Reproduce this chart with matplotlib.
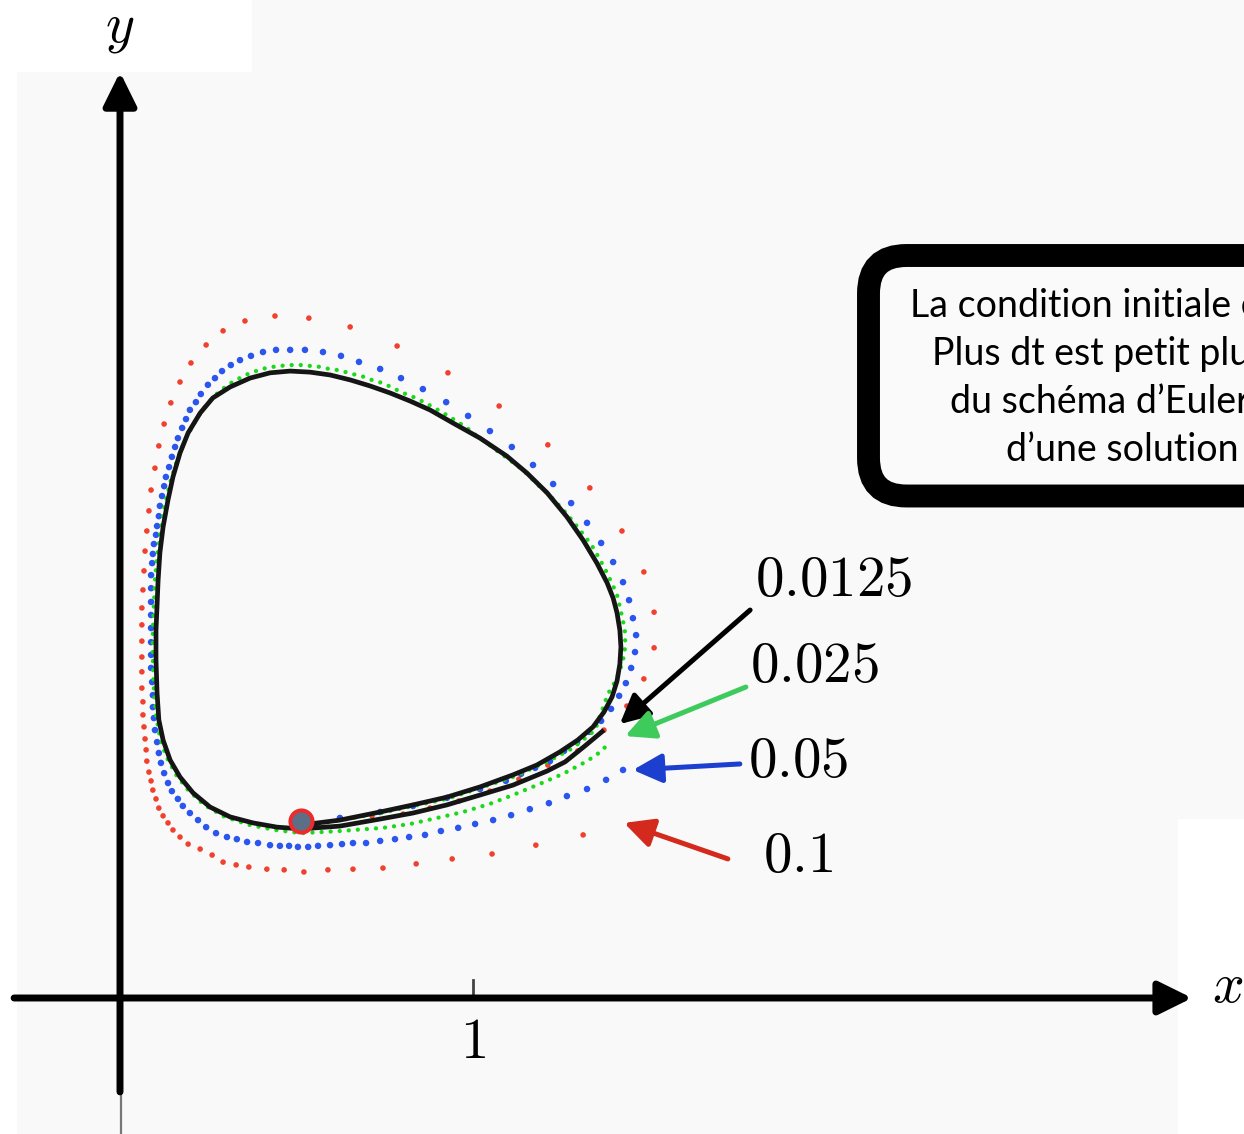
import matplotlib
matplotlib.use("Agg")
import matplotlib.pyplot as plt
from matplotlib.patches import Rectangle, FancyBboxPatch
from matplotlib.transforms import IdentityTransform

plt.rcParams['mathtext.fontset'] = 'cm'

# ---------------- data (plot units) ----------------
dt_labels = ['0.0125', '0.025', '0.05', '0.1']

# Euler, dt = 0.1 (red dots)
red_x = [0.510,0.623,0.714,0.802,0.878,0.960,1.048,1.130,1.212,1.297,
         1.371,1.436,1.484,1.513,1.513,1.484,1.422,1.331,1.212,1.074,
         0.929,0.785,0.652,0.535,0.439,0.354,0.292,0.244,0.201,0.170,
         0.144,0.125,0.110,0.099,0.088,0.082,0.076,0.071,0.068,0.065,
         0.062,0.062,0.062,0.062,0.062,0.062,0.065,0.065,0.068,0.071,
         0.074,0.076,0.082,0.088,0.093,0.102,0.110,0.122,0.136,0.150,
         0.170,0.193,0.227,0.261,0.292,0.329,0.365,0.416,0.465,0.521,
         0.589,0.660,0.745,0.839,0.941,1.054,1.178,1.312]
red_y = [0.504,0.510,0.516,0.521,0.538,0.558,0.586,0.620,0.660,0.700,
         0.759,0.827,0.904,0.992,1.093,1.207,1.323,1.445,1.567,1.677,
         1.771,1.847,1.901,1.926,1.932,1.918,1.890,1.850,1.799,1.745,
         1.686,1.626,1.564,1.501,1.439,1.380,1.323,1.266,1.210,1.156,
         1.105,1.057,1.011,0.966,0.924,0.878,0.839,0.802,0.768,0.734,
         0.703,0.671,0.640,0.615,0.589,0.564,0.538,0.516,0.496,0.476,
         0.456,0.436,0.422,0.405,0.385,0.377,0.371,0.365,0.363,0.357,
         0.363,0.365,0.368,0.380,0.394,0.408,0.433,0.462]

# Euler, dt = 0.05 (blue dots)
blue_x = [0.510,0.623,0.737,0.830,0.926,1.020,1.093,1.136,1.176,1.218,
          1.258,1.295,1.329,1.363,1.391,1.414,1.433,1.448,1.459,1.462,
          1.453,1.442,1.425,1.397,1.363,1.323,1.278,1.227,1.170,1.110,
          1.048,0.986,0.924,0.858,0.796,0.737,0.677,0.626,0.575,0.524,
          0.482,0.442,0.405,0.371,0.340,0.314,0.289,0.269,0.249,0.229,
          0.215,0.198,0.187,0.176,0.164,0.156,0.147,0.139,0.130,0.125,
          0.119,0.113,0.110,0.105,0.102,0.096,0.093,0.091,0.088,0.088,
          0.088,0.088,0.088,0.088,0.088,0.088,0.091,0.093,0.093,0.096,
          0.099,0.105,0.110,0.116,0.125,0.136,0.147,0.164,0.178,0.198,
          0.221,0.244,0.272,0.303,0.331,0.360,0.391,0.425,0.453,0.479,
          0.504,0.533,0.561,0.595,0.629,0.660,0.697,0.737,0.779,0.819,
          0.864,0.909,0.958,1.006,1.057,1.108,1.161,1.215,1.266,1.323,
          1.377,1.425]
blue_y = [0.499,0.510,0.527,0.544,0.567,0.592,0.615,0.635,0.652,0.671,
          0.700,0.725,0.754,0.785,0.819,0.856,0.892,0.935,0.980,1.028,
          1.076,1.127,1.178,1.235,1.289,1.346,1.402,1.456,1.510,1.561,
          1.606,1.649,1.688,1.725,1.756,1.782,1.802,1.819,1.830,1.836,
          1.836,1.836,1.830,1.819,1.807,1.793,1.776,1.756,1.737,1.711,
          1.688,1.666,1.640,1.615,1.586,1.561,1.533,1.504,1.476,1.450,
          1.422,1.394,1.365,1.337,1.312,1.286,1.258,1.232,1.198,1.161,
          1.122,1.085,1.048,1.008,0.972,0.935,0.895,0.858,0.824,0.793,
          0.759,0.725,0.694,0.666,0.637,0.609,0.586,0.564,0.544,0.524,
          0.504,0.484,0.467,0.456,0.450,0.442,0.439,0.433,0.431,0.431,
          0.428,0.428,0.431,0.433,0.436,0.439,0.439,0.445,0.450,0.456,
          0.462,0.473,0.482,0.493,0.504,0.518,0.535,0.552,0.572,0.592,
          0.618,0.646]

# Euler, dt = 0.025 (green, dense dots)
green_x = [0.513,0.737,0.926,1.113,1.210,1.283,1.346,1.382,1.399,1.414,
           1.425,1.431,1.431,1.425,1.416,1.408,1.397,1.385,1.371,1.357,
           1.343,1.323,1.300,1.280,1.258,1.235,1.210,1.181,1.156,1.127,
           1.096,1.068,1.040,1.011,0.983,0.952,0.921,0.892,0.861,0.830,
           0.802,0.773,0.745,0.720,0.694,0.669,0.640,0.615,0.592,0.567,
           0.544,0.518,0.482,0.445,0.402,0.363,0.323,0.283,0.246,0.215,
           0.187,0.164,0.144,0.127,0.116,0.105,0.099,0.096,0.093,0.093,
           0.096,0.102,0.113,0.130,0.159,0.193,0.238,0.297,0.368,0.439,
           0.513,0.623,0.745,0.822,0.898,0.972,1.048,1.113,1.181,1.255,
           1.323,1.365,1.382]
green_y = [0.484,0.524,0.564,0.626,0.669,0.708,0.759,0.861,0.890,0.921,
           0.958,0.994,1.034,1.068,1.108,1.142,1.167,1.193,1.221,1.246,
           1.272,1.300,1.329,1.354,1.380,1.405,1.431,1.456,1.482,1.507,
           1.530,1.550,1.572,1.592,1.615,1.635,1.654,1.671,1.688,1.703,
           1.714,1.728,1.742,1.748,1.759,1.765,1.773,1.779,1.782,1.788,
           1.790,1.793,1.793,1.790,1.782,1.768,1.748,1.720,1.683,1.637,
           1.586,1.530,1.467,1.399,1.326,1.252,1.184,1.113,1.042,0.958,
           0.873,0.802,0.739,0.686,0.632,0.589,0.547,0.513,0.490,0.476,
           0.467,0.473,0.482,0.493,0.510,0.527,0.550,0.575,0.603,0.635,
           0.671,0.700,0.720]

# Euler, dt = 0.0125 (black curve)
black_x = [0.513,0.623,0.737,0.830,0.926,1.020,1.113,1.181,1.246,1.297,
           1.340,1.371,1.394,1.408,1.416,1.419,1.416,1.408,1.397,1.380,
           1.351,1.312,1.266,1.210,1.153,1.096,1.020,0.943,0.878,0.822,
           0.765,0.708,0.652,0.595,0.538,0.482,0.425,0.368,0.312,0.263,
           0.227,0.193,0.170,0.150,0.136,0.122,0.113,0.108,0.105,0.102,
           0.102,0.105,0.110,0.122,0.142,0.170,0.207,0.255,0.312,0.377,
           0.445,0.513,0.623,0.737,0.830,0.926,1.020,1.113,1.210,1.261,
           1.317,1.371]
black_y = [0.490,0.504,0.527,0.547,0.569,0.598,0.632,0.660,0.697,0.731,
           0.768,0.810,0.853,0.898,0.946,0.994,1.042,1.091,1.133,1.176,
           1.232,1.297,1.363,1.431,1.487,1.535,1.586,1.629,1.666,1.691,
           1.714,1.734,1.751,1.765,1.773,1.776,1.771,1.756,1.731,1.700,
           1.657,1.601,1.544,1.476,1.411,1.334,1.261,1.184,1.113,1.042,
           0.958,0.864,0.788,0.731,0.674,0.626,0.581,0.541,0.513,0.496,
           0.484,0.479,0.487,0.507,0.524,0.547,0.575,0.603,0.643,0.669,
           0.714,0.759]

# initial condition
ic_x = [0.513]
ic_y = [0.501]

box_lines = ['La condition initiale est la même.',
             'Plus dt est petit plus la solution',
             'du schéma d’Euler est proche',
             'd’une solution périodique.']

# ---------------- figure ----------------
W, H = 1244, 1134
fig = plt.figure(figsize=(W / 100, H / 100), dpi=100, facecolor='#f9f9f9')

# white margins of the original picture
for (px, py, pw, ph) in [(0, 0, 252, 72), (0, 0, 17, H), (1178, 819, 66, 315)]:
    fig.patches.append(Rectangle((px / W, 1 - (py + ph) / H), pw / W, ph / H,
                                 transform=fig.transFigure, fc='white',
                                 ec='none', zorder=-5))

ax = fig.add_axes([0, 0, 1, 1])
ax.set_xlim(-120 / 353, (W - 120) / 353)
ax.set_ylim((998 - H) / 353, 998 / 353)
ax.axis('off')
ax.patch.set_visible(False)

# axes with arrows
axis_kw = dict(arrowstyle='-|>,head_length=0.85,head_width=0.42', color='black',
               lw=5, mutation_scale=24, shrinkA=0, shrinkB=0)
ax.annotate('', xy=(3.037, 0), xytext=(-0.300, 0), arrowprops=axis_kw)
ax.annotate('', xy=(0, 2.623), xytext=(0, -0.266), arrowprops=axis_kw)
ax.plot([0.003, 0.003], [-0.266, -0.385], color='#777777', lw=1.6)
ax.plot([1, 1], [0, 0.052], color='#444444', lw=2.0)
ax.text(1, -0.127, r'$1$', ha='center', va='center', fontsize=41)
ax.text(0, 2.748, r'$y$', ha='center', va='center', fontsize=40)
ax.text(3.139, 0.031, r'$x$', ha='center', va='center', fontsize=40)

# Euler trajectories
ax.scatter(red_x, red_y, s=16, color='#f0402e', edgecolors='none', zorder=3)
ax.scatter(blue_x, blue_y, s=22, color='#2a55ee', edgecolors='none', zorder=3)
ax.plot(green_x, green_y, color='#1ad81a', lw=3.1, linestyle=(0, (0.01, 2.1)),
        dash_capstyle='round', zorder=4)
ax.plot(black_x, black_y, color='#151515', lw=3.4, zorder=5,
        solid_capstyle='butt', solid_joinstyle='round')
ax.plot(ic_x, ic_y, 'o', ms=16, mfc='#5d6f87', mec='#ee2a2a', mew=2.8, zorder=6)

# dt labels and arrows
arrow_colors = ['#000000', '#3ecb5c', '#1c3fd0', '#d42a1e']
arrow_from = [(1.785, 1.099), (1.773, 0.881), (1.756, 0.663), (1.722, 0.394)]
arrow_to = [(1.416, 0.776), (1.431, 0.742), (1.453, 0.646), (1.428, 0.496)]
label_pos = [(1.799, 1.184), (1.785, 0.938), (1.779, 0.669), (1.822, 0.402)]
for lab, c, a0, a1, lp in zip(dt_labels, arrow_colors, arrow_from, arrow_to, label_pos):
    ax.annotate('', xy=a1, xytext=a0,
                arrowprops=dict(arrowstyle='-|>,head_length=0.8,head_width=0.4',
                                color=c, lw=3.6, mutation_scale=22,
                                shrinkA=0, shrinkB=0), zorder=7)
    ax.text(lp[0], lp[1], '$' + lab + '$', ha='left', va='center', fontsize=41)

# rounded text box (clipped at the right border)
box = FancyBboxPatch((868.5, H - 496), 560, 496 - 255.5,
                     boxstyle='round,pad=0,rounding_size=38',
                     transform=IdentityTransform(), fc='#fafafa', ec='black',
                     lw=16.5, zorder=8)
fig.patches.append(box)
starts = [910, 932, 950, 1006]
baselines = [317, 365, 413, 461]
for s, x0, yb in zip(box_lines, starts, baselines):
    fig.text(x0 / W, 1 - yb / H, s, ha='left', va='baseline', fontsize=27,
             family=['Lato', 'DejaVu Sans'], color='black', zorder=9)

fig.savefig('out.png', dpi=100, facecolor=fig.get_facecolor())
